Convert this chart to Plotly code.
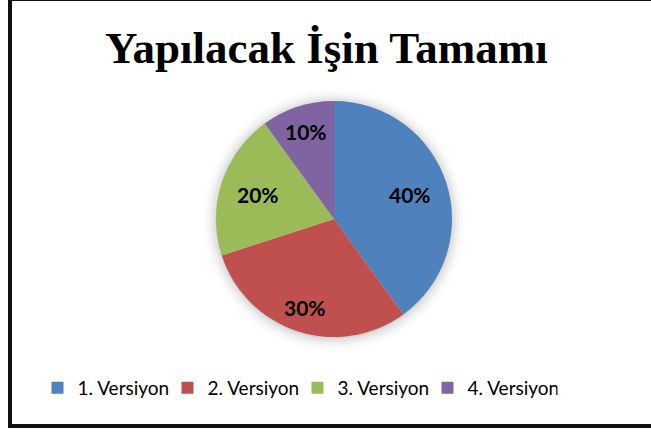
import math
import plotly.graph_objects as go

title_text = "Yapılacak İşin Tamamı"
categories = ["1. Versiyon", "2. Versiyon", "3. Versiyon", "4. Versiyon"]
values = [40, 30, 20, 10]
colors = ["#4F81BD", "#C0504D", "#9BBB59", "#8064A2"]
label_radius_frac = [0.68, 0.79, 0.68, 0.78]  # style: where each label sits along its slice bisector

W, H = 651, 432
cx, cy, r = 334, 219, 118

fig = go.Figure(go.Pie(
    labels=categories,
    values=values,
    sort=False,
    direction="clockwise",
    rotation=0,
    marker=dict(colors=colors, line=dict(width=0)),
    textinfo="none",
    domain=dict(x=[(cx - r) / W, (cx + r) / W], y=[(H - cy - r) / H, (H - cy + r) / H]),
    hoverinfo="label+percent",
))

annotations = [dict(
    text="<b>" + title_text + "</b>", x=326 / W, y=(H - 48) / H, xref="paper", yref="paper",
    xanchor="center", yanchor="middle", showarrow=False,
    font=dict(family="Liberation Serif", size=45, color="black"),
)]

total = sum(values)
cum = 0
for v, f in zip(values, label_radius_frac):
    mid = (cum + v / 2) / total * 2 * math.pi
    cum += v
    px = cx + f * r * math.sin(mid)
    py = cy - f * r * math.cos(mid)
    annotations.append(dict(
        text="<b>%d%%</b>" % round(v / total * 100), x=px / W, y=(H - py) / H,
        xref="paper", yref="paper", xanchor="center", yanchor="middle", showarrow=False,
        font=dict(family="Lato", size=21, color="black"),
    ))

# soft shadow halo behind the pie
shapes = []
for i, a in enumerate([0.06, 0.045, 0.03, 0.02, 0.012]):
    rr = r + 1 + 3 * i
    shapes.append(dict(
        type="circle", xref="paper", yref="paper", layer="below",
        x0=(cx - rr) / W, x1=(cx + rr) / W, y0=(H - cy - 1 - rr) / H, y1=(H - cy - 1 + rr) / H,
        line=dict(width=0), fillcolor="rgba(0,0,0,%.3f)" % a,
    ))
shapes.append(dict(
    type="rect", xref="paper", yref="paper",
    x0=10 / W, x1=(W + 4) / W, y0=(H - 426) / H, y1=(H + 1) / H,
    line=dict(color="#111111", width=4), fillcolor="rgba(0,0,0,0)", layer="above",
))

fig.update_layout(
    width=W, height=H,
    margin=dict(l=0, r=0, t=0, b=0),
    paper_bgcolor="white",
    plot_bgcolor="rgba(0,0,0,0)",
    showlegend=True,
    legend=dict(
        orientation="h", x=297.5 / W, xanchor="center", y=(H - 388) / H, yanchor="middle",
        font=dict(family="Lato", size=19, color="black"),
        entrywidth=85, traceorder="normal", itemclick=False, bgcolor="rgba(0,0,0,0)",
    ),
    annotations=annotations,
    shapes=shapes,
)

fig.write_html("out.html")
